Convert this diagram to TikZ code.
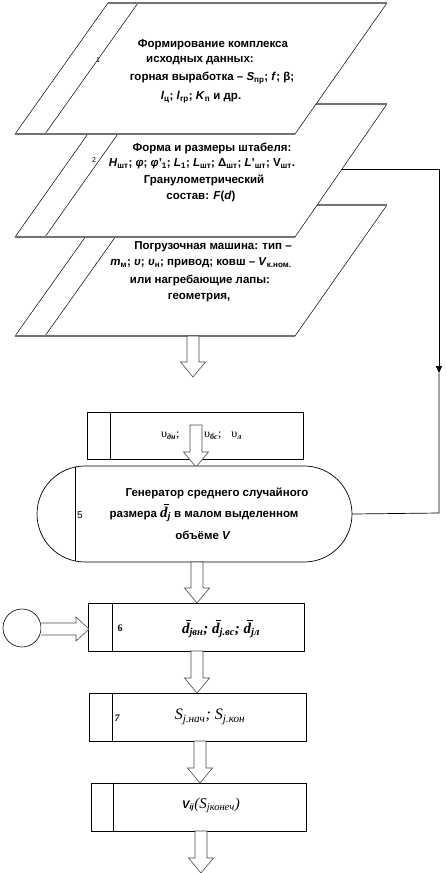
\documentclass[tikz,border=0pt]{standalone}
\usepackage{fontspec}
\setmainfont{Liberation Sans}
\newfontfamily\tms{Liberation Serif}
\usetikzlibrary{shapes.misc,arrows.meta,calc}
\newcommand\dbar{{\rlap{\kern0.24em\raisebox{0.8em}{\rule{0.36em}{0.06em}}}\textit{d}}}
\tikzset{
  pgram/.style={fill=white,draw=black,line width=0.5pt},
  hedge/.style={draw=black!55,line width=1.1pt},
  stepbox/.style={draw=black,line width=0.8pt,fill=white,inner sep=0pt},
  harrow/.style={draw=black!70,fill=white,line width=0.6pt},
  ptext/.style={font=\fontsize{11.5}{13}\selectfont\bfseries,inner sep=0pt},
  lbl/.style={font=\fontsize{7}{8}\selectfont,inner sep=0pt},
  conn/.style={draw=black,line width=0.7pt}
}
\newcommand\hollowdown[3]{\draw[harrow] (#1-6,#2) -- (#1-6,#3-15) -- (#1-12.5,#3-15) -- (#1,#3) -- (#1+12.5,#3-15) -- (#1+6,#3-15) -- (#1+6,#2) -- cycle;}
\begin{document}
\begin{tikzpicture}[x=1pt,y=-1pt]
\useasboundingbox (0,0) rectangle (445,873);
% parallelogram 3
\path[pgram] (15,336) -- (295,336) -- (387,205) -- (108,205) -- cycle;
\draw[line width=0.5pt] (45,336) -- (138,205);
\draw[hedge] (15,336) -- (295,336) (108,205) -- (387,205);
% parallelogram 2
\path[pgram] (15,237) -- (295,237) -- (387,104) -- (109,104) -- cycle;
\draw[line width=0.5pt] (45,237) -- (139,104);
\draw[hedge] (15,237) -- (295,237) (109,104) -- (387,104);
% parallelogram 1
\path[pgram] (15,134) -- (295,134) -- (387,3) -- (108,3) -- cycle;
\draw[line width=0.5pt] (45,134) -- (138,3);
\draw[hedge] (15,134) -- (295,134) (108,3) -- (387,3);

% texts 1
\node[lbl] (n1) at (98,60) {1};
\node[ptext] (t1a) at (213,45) {Формирование комплекса};
\node[ptext] (t1b) at (200,61) {исходных данных:};
\node[ptext] (t1c) at (212,78) {горная выработка – \textit{S}\textsubscript{пр}; \textit{f}; β;};
\node[ptext] (t1d) at (201,97) {\textit{l}\textsubscript{ц}; \textit{l}\textsubscript{гр}; \textit{K}\textsubscript{п} и др.};
% texts 2
\node[lbl] (n2) at (94,160) {2};
\node[ptext] (t2a) at (212,148) {Форма и размеры штабеля:};
\node[ptext] (t2b) at (202,164) {\textit{H}\textsubscript{шт}; \textit{φ}; \textit{φ}'\textsubscript{1}; \textit{L}\textsubscript{1}; \textit{L}\textsubscript{шт}; Δ\textsubscript{шт}; \textit{L}'\textsubscript{шт}; V\textsubscript{шт}.};
\node[ptext] (t2c) at (204,180) {Гранулометрический};
\node[ptext] (t2d) at (201,197) {состав: \textit{F}(\textit{d})};
% texts 3
\node[lbl] (n3) at (96,265) {:};
\node[ptext] (t3a) at (213,247) {Погрузочная машина: тип –};
\node[ptext] (t3b) at (201,263) {\textit{m}\textsubscript{м}; \textit{υ}; \textit{υ}\textsubscript{н}; привод; ковш – \textit{V}\textsubscript{к.ном.}};
\node[ptext] (t3c) at (200,280) {или нагребающие лапы:};
\node[ptext] (t3d) at (199,298) {геометрия,};

% arrow 1
\hollowdown{193}{336}{377}

% box 4
\node[stepbox,minimum width=216,minimum height=47] (b4) at (195,435.5) {};
\draw[line width=0.8pt] ([xshift=24pt]b4.north west) -- ([xshift=24pt]b4.south west);
\node[inner sep=0pt,anchor=west,font=\tms\fontsize{12}{13}\selectfont] (b4ta) at (161,436) {υ\textsubscript{\textbf{\textit{дн}}};};
\node[inner sep=0pt,anchor=west,font=\tms\fontsize{12}{13}\selectfont] (b4tb) at (204,436) {υ\textsubscript{\textbf{\textit{бс}}};\hspace{10pt}υ\textsubscript{\textbf{\textit{л}}}};

% arrow 2
\hollowdown{196}{425}{467}

% terminal 5
\node[draw,line width=0.7pt,fill=white,rounded rectangle,minimum width=315,minimum height=96,inner sep=0pt] (term) at (194.5,514) {};
\draw[line width=0.7pt] (75,467.1) -- (75,560.9);
\node[font=\fontsize{10}{11}\selectfont,inner sep=0pt] (n5) at (80,515) {5};
\node[ptext] (t5a) at (217,493) {Генератор среднего случайного};
\node[ptext] (t5b) at (204,513) {размера {\tms\itshape\fontsize{15}{15}\selectfont\dbar\textsubscript{j}} в малом выделенном};
\node[ptext] (t5c) at (203,535) {объёме \textit{V}};

% connector from block 2
\coordinate (p2r) at (342,169);
\coordinate (c1) at (439,169);
\coordinate (cm) at (439,373);
\coordinate (c2) at (439,513);
\draw[conn,-{Triangle[length=7pt,width=6pt]}] (p2r) -- (c1) -- (cm);
\draw[conn] (cm) -- (c2) -- (term.east);

% arrow 3
\hollowdown{197}{562}{603}

% box 6
\node[stepbox,minimum width=216,minimum height=48] (b6) at (196,627) {};
\draw[line width=0.8pt] ([xshift=25pt]b6.north west) -- ([xshift=25pt]b6.south west);
\node[inner sep=0pt,font=\tms\bfseries\fontsize{10}{11}\selectfont] (n6) at (120,628) {6};
\node[inner sep=0pt,font=\tms\bfseries\itshape\fontsize{15}{15}\selectfont] (b6t) at (221,629) {\dbar\textsubscript{jвн}; \dbar\textsubscript{j.вс}; \dbar\textsubscript{jл}};

% circle and horizontal arrow
\node[draw,circle,line width=0.6pt,minimum size=38,inner sep=0pt] (circ) at (22,628) {};
\draw[harrow] (circ.east |- 0,623) -- (76,623) -- (76,617) -- (89,629) -- (76,641) -- (76,635) -- (circ.east |- 0,635);

% arrow 4
\hollowdown{197}{651}{693}

% box 7
\node[stepbox,minimum width=217,minimum height=48] (b7) at (197.5,717) {};
\draw[line width=0.8pt] ([xshift=24pt]b7.north west) -- ([xshift=24pt]b7.south west);
\node[inner sep=0pt,font=\tms\bfseries\itshape\fontsize{10}{11}\selectfont] (n7) at (117,718) {7};
\node[inner sep=0pt,font=\tms\itshape\fontsize{16}{16}\selectfont] (b7t) at (210,717) {S\textsubscript{j.нач}; S\textsubscript{j.кон}};

% arrow 5
\hollowdown{200}{741}{783}

% box 8
\node[stepbox,minimum width=215,minimum height=48] (b8) at (198.5,807) {};
\draw[line width=0.8pt] ([xshift=23pt]b8.north west) -- ([xshift=23pt]b8.south west);
\node[inner sep=0pt] (b8t) at (211,805) {{\bfseries\itshape\fontsize{11}{12}\selectfont V\textsubscript{ij}}{\tms\itshape\fontsize{15}{15}\selectfont (S\textsubscript{jконеч})}};

% arrow 6
\hollowdown{201}{831}{873}
\end{tikzpicture}
\end{document}
